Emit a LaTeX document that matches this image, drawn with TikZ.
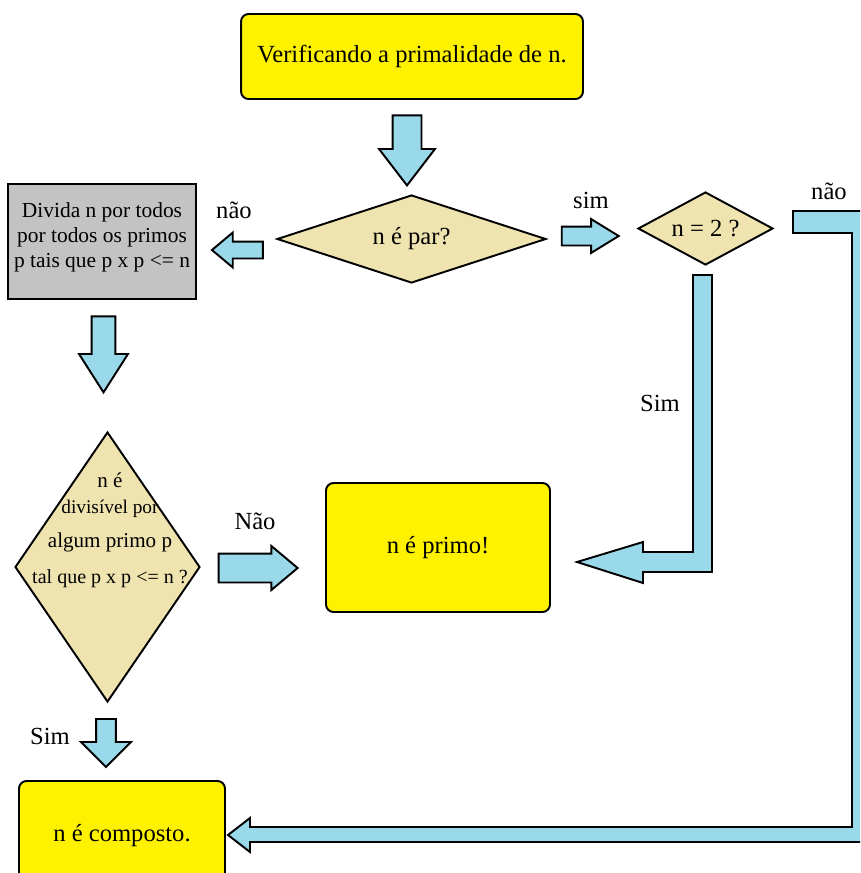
\documentclass[tikz,border=0pt]{standalone}
\usepackage{fontspec}
\setmainfont{Liberation Serif}
\usepackage{tikz}
\usetikzlibrary{shapes,arrows,positioning,calc}
\definecolor{amarelo}{HTML}{FFF200}
\definecolor{bege}{HTML}{EFE4B0}
\definecolor{azul}{HTML}{99D9EA}
\definecolor{cinza}{HTML}{C3C3C3}

\begin{document}
\begin{tikzpicture}[x=0.02cm, y=-0.02cm, line width=1.1pt]
    % Estilos
    \tikzset{
        caixa/.style={rectangle, draw, rounded corners=0.15cm, fill=amarelo, text centered, font=\fontsize{14}{17}\selectfont},
        losango/.style={diamond, draw, fill=bege, inner sep=0pt, text centered, font=\fontsize{14}{17}\selectfont},
        seta/.style={single arrow, draw, fill=azul},
        rotulo/.style={font=\fontsize{14}{17}\selectfont}
    }
    \useasboundingbox (0,0) rectangle (860,873);
    \clip (0,0) rectangle (860,873);

    % Caixas e losangos
    \node[caixa, minimum width=6.84cm, minimum height=1.7cm] (inicio) at (412,56.5) {Verificando a primalidade de n.};
    \node[losango, aspect=3.06, minimum width=5.38cm, minimum height=1.76cm] (par) at (411.5,239) {n é par?};
    \node[losango, aspect=1.85, minimum width=2.7cm, minimum height=1.46cm] (dois) at (705.5,228.5) {n = 2 ?};
    \node[rectangle, draw, fill=cinza, minimum width=3.6cm, minimum height=2.3cm, align=center, font=\fontsize{12.2}{14.4}\selectfont] (divida) at (102,241.5) {Divida n por todos\\por todos os primos\\p tais que p x p <= n\\[-7pt]};
    \node[losango, minimum width=3.7cm, minimum height=5.4cm] (divisivel) at (107.5,567) {};
    \node[align=center, font=\fontsize{12}{14.8}\selectfont] (pergunta) at (110,530) {n é\\{\fontsize{11}{14.8}\selectfont divisível por}\\[4.5pt]algum primo p\\[5.7pt]{\fontsize{11.4}{14.8}\selectfont tal que p x p <= n ?}};
    \node[caixa, minimum width=4.48cm, minimum height=2.58cm] (primo) at (438,547.5) {n é primo!};
    \node[caixa, minimum width=4.12cm, minimum height=2.2cm] (composto) at (122,836) {n é composto.};

    % Setas retas
    \node[seta, inner sep=0.27cm, minimum height=1.4cm, single arrow head extend=0.27cm, single arrow tip angle=75, shape border rotate=270] (s1) at (407,141) {};
    \node[seta, inner sep=0.15cm, minimum height=1.02cm, single arrow head extend=0.18cm, single arrow tip angle=80, shape border rotate=180] (s2) at (242.5,250) {};
    \node[seta, inner sep=0.22cm, minimum height=1.52cm, single arrow head extend=0.25cm, single arrow tip angle=65, shape border rotate=270] (s3) at (103.5,345) {};
    \node[seta, inner sep=0.27cm, minimum height=1.58cm, single arrow head extend=0.15cm, single arrow tip angle=80] (s4) at (249.5,568) {};
    \node[seta, inner sep=0.17cm, minimum height=1.14cm, single arrow head extend=0.15cm, single arrow tip angle=63] (s5) at (582.5,236) {};
    \node[seta, inner sep=0.18cm, minimum height=0.96cm, single arrow head extend=0.3cm, single arrow tip angle=90, shape border rotate=270] (s6) at (106,738) {};

    % Setas dobradas
    \draw[fill=azul] (693,275) -- (712,275) -- (712,572) -- (643,572) -- (643,583) -- (577,562) -- (643,542) -- (643,552) -- (693,552) -- cycle;
    \draw[fill=azul] (793,211) -- (880,211) -- (880,842) -- (250,842) -- (250,852) -- (228,835) -- (250,818) -- (250,827) -- (852,827) -- (852,233) -- (793,233) -- cycle;

    % Rotulos
    \node[rotulo] (l1) at (234,210) {não};
    \node[rotulo] (l2) at (591,200) {sim};
    \node[rotulo] (l3) at (829,191) {não};
    \node[rotulo] (l4) at (660,403) {Sim};
    \node[rotulo] (l5) at (255,521) {Não};
    \node[rotulo] (l6) at (50,736) {Sim};
\end{tikzpicture}
\end{document}
